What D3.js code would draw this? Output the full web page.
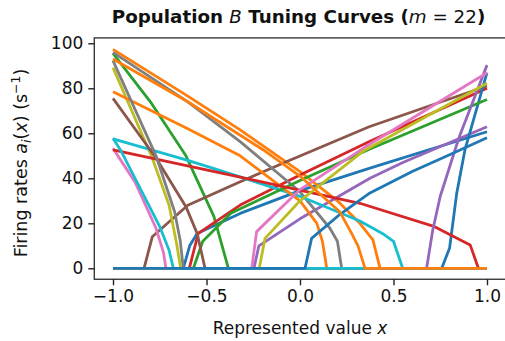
<!DOCTYPE html>
<html>
<head>
<meta charset="utf-8">
<script src="https://cdn.jsdelivr.net/npm/d3@7"></script>
<style>
  body { margin: 0; background: #fff; }
  svg { display: block; font-family: "DejaVu Sans", sans-serif; }
</style>
</head>
<body>
<div id="chart"></div>
<script>
// matplotlib tab10 colour cycle
const palette = ['#1f77b4', '#ff7f0e', '#2ca02c', '#d62728', '#9467bd',
  '#8c564b', '#e377c2', '#7f7f7f', '#bcbd22', '#17becf'];

const xTicks = [-1.0, -0.5, 0.0, 0.5, 1.0];
const yTicks = [0, 20, 40, 60, 80, 100];

// tuning curves, [x, rate] points in plotting order
const n00 = [[-1, 0], [-0.624, 0], [-0.59, 10], [-0.55, 15.5], [-0.32, 24.4], [0.0, 34.5], [0.374, 44.5], [1, 60.7]];
const n01 = [[-1, 97.3], [-0.6, 76.5], [-0.32, 61.5], [0.0, 43], [0.2, 30], [0.32, 20], [0.39, 12.6], [0.428, 0], [1, 0]];
const n02 = [[-1, 95.5], [-0.8, 74], [-0.61, 50], [-0.46, 23], [-0.383, 0], [1, 0]];
const n03 = [[-1, 0], [-0.592, 0], [-0.544, 15.5], [-0.32, 28.1], [0.0, 41.5], [0.374, 56.5], [1, 80]];
const n04 = [[-1, 0], [-0.246, 0], [-0.22, 10], [0.0, 22], [0.374, 40], [0.55, 47], [1, 62.9]];
const n05 = [[-1, 0], [-0.834, 0], [-0.79, 14], [-0.6, 28], [-0.32, 38.5], [-0.07, 47.5], [0.37, 62.9], [1, 81]];
const n06 = [[-1, 53.3], [-0.88, 38], [-0.77, 17.8], [-0.73, 7], [-0.717, 0], [1, 0]];
const n07 = [[-1, 96], [-0.6, 74], [-0.32, 56.3], [0.0, 34], [0.16, 17.8], [0.2, 12], [0.223, 0], [1, 0]];
const n08 = [[-1, 89.2], [-0.79, 49], [-0.7, 28], [-0.66, 11], [-0.638, 0], [1, 0]];
const n09 = [[-1, 57.5], [-0.6, 48], [-0.37, 42], [0.0, 32], [0.32, 21], [0.45, 15], [0.5, 12], [0.549, 0], [1, 0]];
const n10 = [[-1, 0], [0.758, 0], [0.8, 9], [0.838, 33.3], [0.882, 52.6], [1, 87]];
const n11 = [[-1, 78.5], [-0.6, 62], [-0.32, 50], [0.0, 30], [0.09, 20], [0.12, 12], [0.143, 0], [1, 0]];
const n12 = [[-1, 0], [-0.57, 0], [-0.52, 12], [-0.37, 24.5], [0.0, 39], [0.374, 53], [1, 75]];
const n13 = [[-1, 52.6], [-0.32, 40.5], [0.32, 28.9], [0.72, 18.5], [0.91, 10.4], [0.954, 0], [1, 0]];
const n14 = [[-1, 0], [0.677, 0], [0.71, 17], [0.75, 32], [0.8, 45], [0.85, 58], [1, 90.3]];
const n15 = [[-1, 75.5], [-0.77, 49], [-0.61, 27.4], [-0.55, 15.5], [-0.508, 0], [1, 0]];
const n16 = [[-1, 0], [-0.258, 0], [-0.232, 16.3], [0.0, 35], [0.35, 54], [1, 86.9]];
const n17 = [[-1, 92.3], [-0.77, 50], [-0.67, 25], [-0.64, 12], [-0.624, 0], [1, 0]];
const n18 = [[-1, 0], [-0.218, 0], [-0.187, 13.3], [0.0, 30], [0.337, 52], [1, 82.2]];
const n19 = [[-1, 57.8], [-0.96, 52.6], [-0.75, 18.5], [-0.7, 8], [-0.677, 0], [1, 0]];
const n20 = [[-1, 0], [0.027, 0], [0.062, 13.3], [0.214, 24], [0.374, 33.5], [0.6, 43], [0.8, 50.5], [1, 58]];
const n21 = [[-1, 93], [-0.6, 74], [-0.196, 52.6], [0.0, 41], [0.214, 25], [0.276, 15.5], [0.31, 10], [0.348, 0], [1, 0]];

const curves = [n00, n01, n02, n03, n04, n05, n06, n07, n08, n09, n10,
  n11, n12, n13, n14, n15, n16, n17, n18, n19, n20, n21];

const width = 505, height = 341;

const svg = d3.select('#chart').append('svg')
  .attr('width', width)
  .attr('height', height);

// scales: data -1..1 maps to 113..487, rate 0..100 to 268.3..43.3
const x = d3.scaleLinear().domain([-1, 1]).range([113, 487]);
const y = d3.scaleLinear().domain([0, 100]).range([268.3, 43.3]);

// axes limits with matplotlib-like margins
const x0 = x(-1.1), x1 = x(1.1);
const y0 = y(-4.87), y1 = y(102.4);

svg.append('clipPath').attr('id', 'plot-clip')
  .append('rect')
  .attr('x', x0).attr('y', y1)
  .attr('width', x1 - x0).attr('height', y0 - y1);

const line = d3.line()
  .x(d => x(d[0]))
  .y(d => y(d[1]));

svg.append('g')
  .attr('clip-path', 'url(#plot-clip)')
  .selectAll('path')
  .data(curves)
  .enter()
  .append('path')
  .attr('d', line)
  .attr('fill', 'none')
  .attr('stroke', (d, i) => palette[i % 10])
  .attr('stroke-width', 2.8)
  .attr('stroke-linejoin', 'round');

// frame
svg.append('rect')
  .attr('x', x0).attr('y', y1)
  .attr('width', x1 - x0).attr('height', y0 - y1)
  .attr('fill', 'none')
  .attr('stroke', '#3a3a3a')
  .attr('stroke-width', 1.4);

// x axis
const xAxis = svg.append('g')
  .attr('transform', `translate(0, ${y0})`)
  .call(d3.axisBottom(x).tickValues(xTicks).tickSize(6).tickPadding(5)
    .tickFormat(d3.format('.1f')));
xAxis.select('.domain').remove();
xAxis.selectAll('line').attr('stroke', '#222').attr('stroke-width', 1.4);
xAxis.selectAll('text')
  .attr('font-size', 17)
  .attr('font-family', 'DejaVu Sans')
  .attr('fill', '#111')
  .text(d => d3.format('.1f')(d).replace('-', '\u2212'));

// y axis
const yAxis = svg.append('g')
  .attr('transform', `translate(${x0}, 0)`)
  .call(d3.axisLeft(y).tickValues(yTicks).tickSize(6).tickPadding(5));
yAxis.select('.domain').remove();
yAxis.selectAll('line').attr('stroke', '#222').attr('stroke-width', 1.4);
yAxis.selectAll('text')
  .attr('font-size', 17)
  .attr('font-family', 'DejaVu Sans')
  .attr('fill', '#111');

// title
const title = svg.append('text')
  .attr('x', 298.5)
  .attr('y', 23)
  .attr('text-anchor', 'middle')
  .attr('font-size', 18.3)
  .attr('fill', '#111');
title.append('tspan').attr('font-weight', 'bold').text('Population ');
title.append('tspan').attr('font-style', 'italic').text('B');
title.append('tspan').attr('font-weight', 'bold').text(' Tuning Curves (');
title.append('tspan').attr('font-style', 'italic').text('m');
title.append('tspan').text(' = 22');
title.append('tspan').attr('font-weight', 'bold').text(')');

// x label
const xLabel = svg.append('text')
  .attr('x', 300)
  .attr('y', 334)
  .attr('text-anchor', 'middle')
  .attr('font-size', 17)
  .attr('fill', '#111');
xLabel.append('tspan').text('Represented value ');
xLabel.append('tspan').attr('font-style', 'italic').text('x');

// y label
const yLabel = svg.append('text')
  .attr('transform', 'translate(27, 163) rotate(-90)')
  .attr('text-anchor', 'middle')
  .attr('font-size', 17.5)
  .attr('fill', '#111');
yLabel.append('tspan').text('Firing rates ');
yLabel.append('tspan').attr('font-style', 'italic').text('a');
yLabel.append('tspan').attr('font-style', 'italic').attr('font-size', 12.5)
  .attr('dy', 4).text('i');
yLabel.append('tspan').attr('dy', -4).text('(');
yLabel.append('tspan').attr('font-style', 'italic').text('x');
yLabel.append('tspan').text(') (s');
yLabel.append('tspan').attr('font-size', 12.5).attr('dy', -7).text('\u22121');
yLabel.append('tspan').attr('dy', 7).text(')');
</script>
</body>
</html>
